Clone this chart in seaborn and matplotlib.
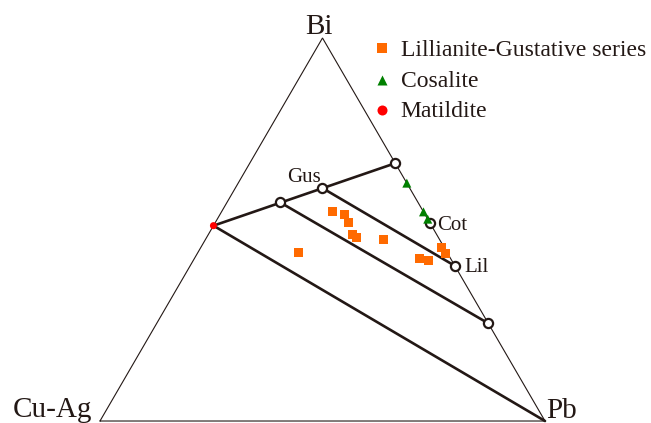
import numpy as np
import pandas as pd
import matplotlib
matplotlib.use("Agg")
import matplotlib.pyplot as plt
import seaborn as sns

sns.set_style("white")
plt.rcParams["font.family"] = ["Liberation Serif", "DejaVu Serif"]

INK = "#231815"

# Measured compositions (atomic fractions): Cu-Ag, Bi, Pb
lg_cuag = [0.203, 0.180, 0.183, 0.189, 0.184, 0.126, 0.334, 0.005, 0.005, 0.069, 0.052]
lg_bi   = [0.547, 0.540, 0.519, 0.486, 0.480, 0.473, 0.439, 0.453, 0.437, 0.424, 0.420]
lg_pb   = [0.250, 0.280, 0.298, 0.325, 0.336, 0.401, 0.227, 0.542, 0.558, 0.507, 0.528]

cos_cuag = [0.0, 0.0, 0.0]
cos_bi   = [0.621, 0.546, 0.527]
cos_pb   = [0.379, 0.454, 0.473]

mat_cuag = [0.49]
mat_bi   = [0.51]
mat_pb   = [0.0]

# Ideal end-members of the lillianite homologous series
ref_names = ["Gbs", "Gus", "Vik", "Cot", "Lil", "Hey"]
ref_cuag  = [0.0, 0.196, 0.310, 0.0, 0.0, 0.0]
ref_bi    = [0.673, 0.608, 0.571, 0.516, 0.405, 0.255]
ref_pb    = [0.327, 0.196, 0.119, 0.484, 0.595, 0.745]

# Tie lines between phases ("Mat" and "PbV" are extra nodes)
tie_lines = [("Gbs", "Mat"), ("Gus", "Lil"), ("Vik", "Hey"), ("Mat", "PbV")]

series_names = ["Lillianite-Gustative series", "Cosalite", "Matildite"]
series_colors = {"Lillianite-Gustative series": "#FF6A00",
                 "Cosalite": "#008000",
                 "Matildite": "#FF0000"}
series_markers = {"Lillianite-Gustative series": "s",
                  "Cosalite": "^",
                  "Matildite": "o"}
series_sizes = {"Lillianite-Gustative series": 42,
                "Cosalite": 42,
                "Matildite": 26}


def to_xy(bi, pb):
    bi = np.asarray(bi, float)
    pb = np.asarray(pb, float)
    return pb + bi / 2.0, bi * np.sqrt(3) / 2.0


frames = []
for name, (c, b, p) in zip(series_names,
                           [(lg_cuag, lg_bi, lg_pb),
                            (cos_cuag, cos_bi, cos_pb),
                            (mat_cuag, mat_bi, mat_pb)]):
    x, y = to_xy(b, p)
    frames.append(pd.DataFrame({"x": x, "y": y, "series": name}))
data = pd.concat(frames, ignore_index=True)

rx, ry = to_xy(ref_bi, ref_pb)
nodes = {n: (rx[i], ry[i]) for i, n in enumerate(ref_names)}
mx, my = to_xy(mat_bi, mat_pb)
nodes["Mat"] = (mx[0], my[0])
nodes["PbV"] = (1.0, 0.0)

fig = plt.figure(figsize=(6.51, 4.23), dpi=100)
ax = fig.add_axes([0, 0, 1, 1])
ax.set_xlim(-0.2247, 1.2382)
ax.set_ylim(-0.0045, 0.9519)
ax.axis("off")

# Triangle frame
tri_x = [0.0, 1.0, 0.5, 0.0]
tri_y = [0.0, 0.0, np.sqrt(3) / 2, 0.0]
ax.plot(tri_x, tri_y, color=INK, lw=0.8, zorder=1, solid_joinstyle="miter")

# Tie lines
for a, b in tie_lines:
    ax.plot([nodes[a][0], nodes[b][0]], [nodes[a][1], nodes[b][1]],
            color=INK, lw=1.9, zorder=2, solid_capstyle="round")

# End-member circles
ax.plot(rx, ry, linestyle="none", marker="o", ms=6.6, mfc="white",
        mec=INK, mew=1.6, zorder=3)

# Analyses
sns.scatterplot(data=data, x="x", y="y", hue="series", style="series",
                size="series", sizes=series_sizes, palette=series_colors,
                markers=series_markers, linewidth=0, legend=False,
                ax=ax, zorder=4)

# Vertex labels
ax.text(0.492, 0.875, "Bi", fontsize=21, color=INK, ha="center", va="baseline")
ax.text(-0.197, 0.0097, "Cu-Ag", fontsize=21, color=INK, ha="left", va="baseline")
ax.text(1.002, 0.006, "Pb", fontsize=21, color=INK, ha="left", va="baseline")

# Phase labels
ax.text(0.421, 0.540, "Gus", fontsize=15, color=INK, ha="left", va="baseline")
ax.text(0.758, 0.432, "Cot", fontsize=15, color=INK, ha="left", va="baseline")
ax.text(0.818, 0.3376, "Lil", fontsize=15, color=INK, ha="left", va="baseline")

# Legend
leg_y_marker = [0.8427, 0.771, 0.703]
leg_y_text = [0.826, 0.756, 0.688]
for name, ym, yt in zip(series_names, leg_y_marker, leg_y_text):
    ax.scatter([0.634], [ym], marker=series_markers[name], s=52,
               color=series_colors[name], linewidths=0, zorder=5)
    ax.text(0.6757, yt, name, fontsize=17, color=INK, ha="left", va="baseline")

fig.savefig("out.png", dpi=100)
